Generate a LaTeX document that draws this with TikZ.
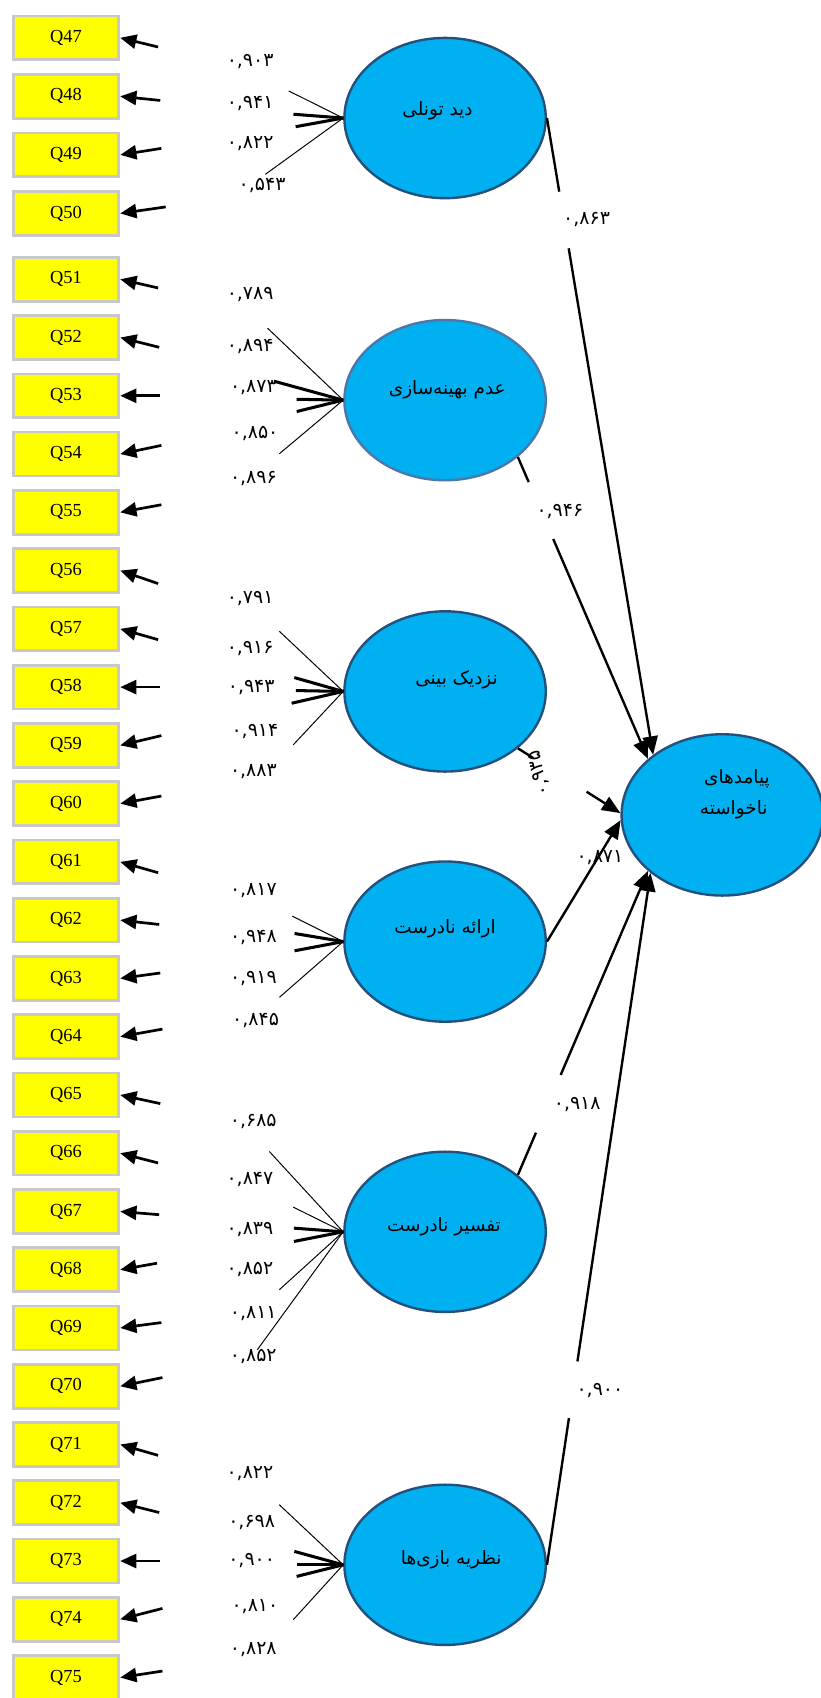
\documentclass[tikz,border=0pt]{standalone}
\usepackage{fontspec}
\setmainfont{Liberation Serif}
\newfontfamily\fa[Script=Arabic]{DejaVu Sans}
\TeXXeTstate=1
\usetikzlibrary{arrows.meta,shapes.geometric,calc}
\definecolor{qyellow}{HTML}{FFFF00}
\definecolor{qgray}{HTML}{C8C8C8}
\definecolor{lvfill}{HTML}{00B0F0}
\definecolor{lvline}{HTML}{24507C}
\definecolor{lvlinelight}{HTML}{4A78AA}
\tikzset{
  qbox/.style={draw=qgray, line width=2.5pt, fill=qyellow, minimum width=97.5pt, minimum height=40.5pt, inner sep=0pt, font=\fontsize{17}{19}\selectfont},
  qarrow/.style={line width=2.5pt, -{Triangle[length=15pt,width=13pt]}},
  lv/.style={ellipse, draw=lvline, line width=2.2pt, fill=lvfill, minimum width=186pt, minimum height=148pt, inner sep=0pt},
  fanthin/.style={line width=0.9pt},
  fanthick/.style={line width=2.8pt},
  load/.style={font=\fa\fontsize{17.5}{19}\selectfont, inner sep=0pt},
  lvtext/.style={font=\fa\fontsize{17}{19}\selectfont, inner sep=0pt},
  sline/.style={line width=2.2pt},
  sarrow/.style={line width=2.2pt, -{Triangle[length=17pt,width=14pt]}}
}
\begin{document}
\begin{tikzpicture}[x=1pt,y=-1pt]
\useasboundingbox (0,0) rectangle (758,1568);
\fill[white] (0,0) rectangle (758,1568);

% indicator boxes
\foreach \n in {47,...,50} \node[qbox] (Q\n) at (61,{34.9+(\n-47)*54.06}) {Q\n};
\foreach \n in {51,...,75} \node[qbox] (Q\n) at (61,{257.9+(\n-51)*53.8}) {Q\n};

% error arrows
\foreach \n/\sx/\dy in {47/146/8.5,48/148/3.8,49/149/-6,50/153/-6,
  51/146/8,52/147/9,53/148/0,54/149/-8,55/149/-7,
  56/146/12,57/146/10,58/148/0,59/149/-9,60/149/-7,
  61/146/10,62/147/4,63/148/-5,64/150/-7,65/148/8,
  66/146/9,67/147/3,68/145/-6,69/149/-5,70/150/-8,
  71/146/10,72/147/9,73/148/0,74/150/-10,75/150/-6}
  \draw[qarrow] ($(Q\n.east)+({\sx-111},\dy)$) coordinate (a\n) -- (Q\n.east);

% latent variables
\node[lv] (e1) at (411,109) {};
\node[lv, draw=lvlinelight] (e2) at (411,369.5) {};
\node[lv] (e3) at (411,638.5) {};
\node[lv] (e4) at (411,869.5) {};
\node[lv] (e5) at (411,1137.5) {};
\node[lv] (e6) at (411,1445) {};
\node[lv, minimum height=149pt] (tgt) at (667,752.5) {};

\node[lvtext] (t1) at (404,102) {\beginR دید تونلی\endR};
\node[lvtext] (t2) at (413,360) {\beginR عدم بهینه‌سازی\endR};
\node[lvtext] (t3) at (421.6,628) {\beginR نزدیک بینی\endR};
\node[lvtext] (t4) at (411,858) {\beginR ارائه نادرست\endR};
\node[lvtext] (t5) at (410,1133) {\beginR تفسیر نادرست\endR};
\node[lvtext] (t6) at (416.7,1440) {\beginR نظریه بازی‌ها\endR};
\node[lvtext] (t7a) at (680.5,719) {\beginR پیامدهای\endR};
\node[lvtext] (t7b) at (677.5,748) {\beginR ناخواسته\endR};

% fan lines
\draw[fanthin]  (e1.west) -- (266.6,84) coordinate (f1a);
\draw[fanthick] (e1.west) -- (271,105.5) coordinate (f1b);
\draw[fanthick] (e1.west) -- (273,117) coordinate (f1c);
\draw[fanthin]  (e1.west) -- (245,161) coordinate (f1d);

\draw[fanthin]  (e2.west) -- (247,303) coordinate (f2a);
\draw[fanthick] (e2.west) -- (253,352) coordinate (f2b);
\draw[fanthick] (e2.west) -- (274,368.7) coordinate (f2c);
\draw[fanthick] (e2.west) -- (274,380) coordinate (f2d);
\draw[fanthin]  (e2.west) -- (258,419) coordinate (f2e);

\draw[fanthin]  (e3.west) -- (258,583) coordinate (f3a);
\draw[fanthick] (e3.west) -- (271.8,625.7) coordinate (f3b);
\draw[fanthick] (e3.west) -- (273.3,637.7) coordinate (f3c);
\draw[fanthick] (e3.west) -- (269.3,649.4) coordinate (f3d);
\draw[fanthin]  (e3.west) -- (270.8,687.8) coordinate (f3e);

\draw[fanthin]  (e4.west) -- (270,846) coordinate (f4a);
\draw[fanthick] (e4.west) -- (272,862) coordinate (f4b);
\draw[fanthick] (e4.west) -- (272,878) coordinate (f4c);
\draw[fanthin]  (e4.west) -- (258,921) coordinate (f4d);

\draw[fanthin]  (e5.west) -- (248.7,1063.3) coordinate (f5a);
\draw[fanthin]  (e5.west) -- (270.8,1114.7) coordinate (f5b);
\draw[fanthick] (e5.west) -- (271.4,1134.1) coordinate (f5c);
\draw[fanthick] (e5.west) -- (271.4,1146.4) coordinate (f5d);
\draw[fanthin]  (e5.west) -- (257.9,1191) coordinate (f5e);
\draw[fanthin]  (e5.west) -- (237.6,1246.4) coordinate (f5f);

\draw[fanthin]  (e6.west) -- (257.9,1389.5) coordinate (f6a);
\draw[fanthick] (e6.west) -- (271.8,1432.6) coordinate (f6b);
\draw[fanthick] (e6.west) -- (273.9,1445) coordinate (f6c);
\draw[fanthick] (e6.west) -- (273.9,1455.7) coordinate (f6d);
\draw[fanthin]  (e6.west) -- (270.8,1495.7) coordinate (f6e);

% loading labels
\node[load] (n1a) at (231,57) {۰,۹۰۳};
\node[load] (n1b) at (231,96) {۰,۹۴۱};
\node[load] (n1c) at (231,133) {۰,۸۲۲};
\node[load] (n1d) at (242,171) {۰,۵۴۳};

\node[load] (n2a) at (231,272) {۰,۷۸۹};
\node[load] (n2b) at (231,320) {۰,۸۹۴};
\node[load] (n2c) at (234,358) {۰,۸۷۳};
\node[load] (n2d) at (235.5,400) {۰,۸۵۰};
\node[load] (n2e) at (234,442) {۰,۸۹۶};

\node[load] (n3a) at (231,553) {۰,۷۹۱};
\node[load] (n3b) at (231,598.6) {۰,۹۱۶};
\node[load] (n3c) at (232,634.6) {۰,۹۴۳};
\node[load] (n3d) at (235.4,675.5) {۰,۹۱۴};
\node[load] (n3e) at (234,712.5) {۰,۸۸۳};

\node[load] (n4a) at (234,822) {۰,۸۱۷};
\node[load] (n4b) at (234,866) {۰,۹۴۸};
\node[load] (n4c) at (234,904) {۰,۹۱۹};
\node[load] (n4d) at (236,942) {۰,۸۴۵};

\node[load] (n5a) at (233.9,1035.6) {۰,۶۸۵};
\node[load] (n5b) at (230.8,1089.5) {۰,۸۴۷};
\node[load] (n5c) at (230.8,1135.6) {۰,۸۳۹};
\node[load] (n5d) at (230.8,1172.6) {۰,۸۵۲};
\node[load] (n5e) at (233.9,1212.6) {۰,۸۱۱};
\node[load] (n5f) at (233.9,1252.6) {۰,۸۵۲};

\node[load] (n6a) at (230.8,1360.3) {۰,۸۲۲};
\node[load] (n6b) at (232.4,1406.4) {۰,۶۹۸};
\node[load] (n6c) at (232.4,1441) {۰,۹۰۰};
\node[load] (n6d) at (235.4,1483.4) {۰,۸۱۰};
\node[load] (n6e) at (233.9,1523.4) {۰,۸۲۸};

% structural paths
\path (e1.east) -- (tgt.139) coordinate[pos=0.1156] (s1a) coordinate[pos=0.2046] (s1b);
\draw[sline] (e1.east) -- (s1a);
\draw[sarrow] (s1b) -- (tgt.139);
\node[load] (p1) at (541.7,203) {۰,۸۶۳};

\path (e2.-38) -- (tgt.143) coordinate[pos=0.083] (s2a) coordinate[pos=0.2715] (s2b);
\draw[sline] (e2.-38) -- (s2a);
\draw[sarrow] (s2b) -- (tgt.143);
\node[load] (p2) at (517,472.4) {۰,۹۴۶};

\path (e3.-38) -- (tgt.179) coordinate[pos=0.15] (s3a) coordinate[pos=0.67] (s3b);
\draw[sline] (e3.-38) -- (s3a);
\draw[sarrow] (s3b) -- (tgt.179);
\node[load, rotate=103] (p3) at (498,714) {۰,۹۳۵};

\draw[sarrow] (e4.east) -- (tgt.183);
\node[load] (p4) at (554,791.5) {۰,۸۷۱};

\path (e5.38) -- (tgt.217) coordinate[pos=0.139] (s5a) coordinate[pos=0.329] (s5b);
\draw[sline] (e5.38) -- (s5a);
\draw[sarrow] (s5b) -- (tgt.217);
\node[load] (p5) at (533,1020) {۰,۹۱۸};

\path (e6.east) -- (tgt.219) coordinate[pos=0.212] (s6a) coordinate[pos=0.294] (s6b);
\draw[sline] (e6.east) -- (s6a);
\draw[sarrow] (s6b) -- (tgt.219);
\node[load] (p6) at (554,1284) {۰,۹۰۰};
\end{tikzpicture}
\end{document}
